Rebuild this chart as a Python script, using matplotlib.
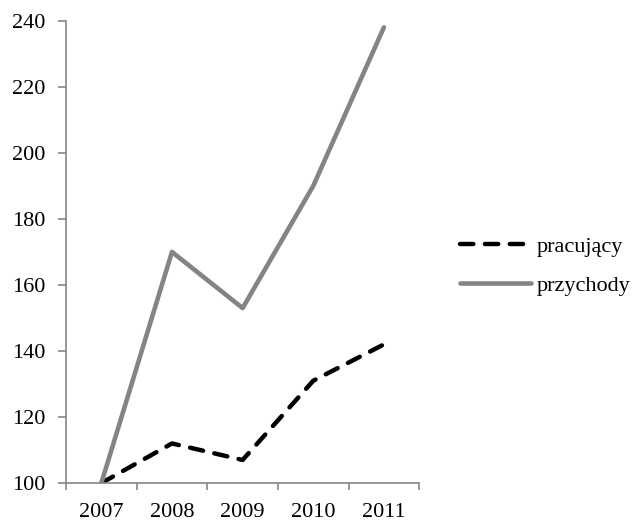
import matplotlib.pyplot as plt
import numpy as np

lata = ["2007", "2008", "2009", "2010", "2011"]
pracujacy = [100, 112, 107, 131, 142]
przychody = [100, 170, 153, 190, 238]

plt.rcParams["font.family"] = ["Liberation Serif", "DejaVu Serif"]

fig = plt.figure(figsize=(6.41, 5.2), dpi=100)
ax = fig.add_axes([0.103, 0.071, 0.551, 0.889])

x = np.arange(len(lata))
ax.plot(x, pracujacy, color="black", lw=3.2, ls=(0, (3, 2.6)),
        dash_capstyle="round", label="pracujący")
ax.plot(x, przychody, color="#848484", lw=3.3, label="przychody",
        solid_capstyle="round")

ax.set_xlim(-0.5, len(lata) - 0.5)
ax.set_ylim(100, 240)
ax.set_yticks(np.arange(100, 241, 20))
ax.set_xticks(x)
ax.set_xticklabels(lata)
ax.set_xticks(np.arange(-0.5, len(lata), 1), minor=True)
ax.tick_params(axis="x", which="major", length=0, pad=14, labelsize=16)
ax.tick_params(axis="x", which="minor", length=5, width=1.2, color="#868686", direction="out")
ax.tick_params(axis="y", length=6, width=1.2, color="#868686", labelsize=16, pad=9)

for s in ["top", "right"]:
    ax.spines[s].set_visible(False)
for s in ["left", "bottom"]:
    ax.spines[s].set_color("#868686")
    ax.spines[s].set_linewidth(1.2)

fig.legend(loc="center left", bbox_to_anchor=(460 / 641, 1 - 266 / 520), frameon=False,
           fontsize=16, handlelength=3.2, handletextpad=0.25, labelspacing=0.85,
           borderpad=0, borderaxespad=0)

fig.savefig("out.png", dpi=100)
